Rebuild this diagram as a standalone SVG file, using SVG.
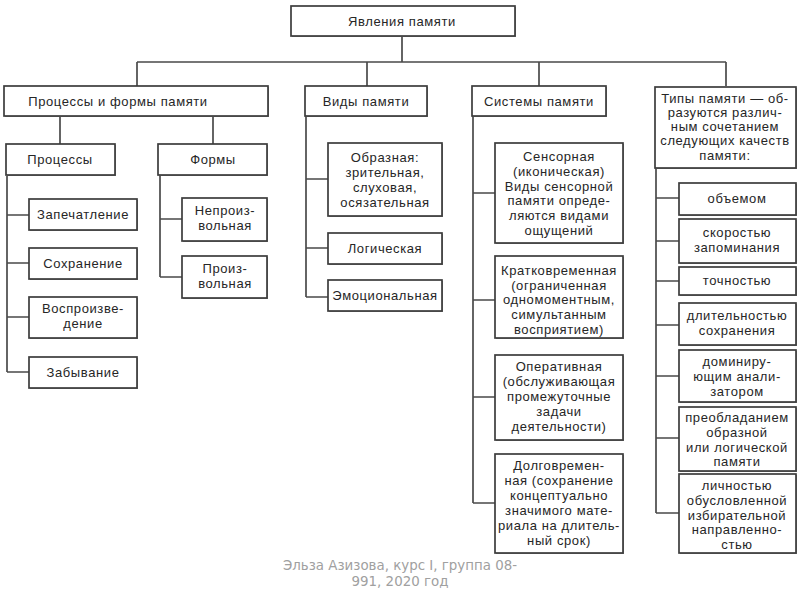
<svg xmlns="http://www.w3.org/2000/svg" width="800" height="600" viewBox="0 0 800 600">
<style>
.bg{fill:#fff}
.box{fill:#fff;stroke:#3c3c3c;stroke-width:1.7}
.sh{fill:#8a8a8a}
.t{font-family:"Liberation Sans",Arial,sans-serif;font-size:13px;letter-spacing:0.6px;fill:#262626;text-anchor:middle}
.ln{stroke:#4a4a4a;stroke-width:1.7;fill:none}
.ft{font-family:"DejaVu Sans",sans-serif;font-size:13.4px;fill:#a0a0a0;text-anchor:middle}
</style>
<rect class="bg" x="0" y="0" width="800" height="600"/>
<g id="connectors">
<path class="ln" d="M402,36V62M137,62H726M137,62V86M367,62V86M539,62V86M726,62V86"/>
<path class="ln" d="M60,116V144M213,116V144"/>
<path class="ln" d="M7,176V372M7,215H29M7,263H29M7,317H29M7,372H29"/>
<path class="ln" d="M160,176V277M160,219H182M160,277H182"/>
<path class="ln" d="M306,116V297M306,179H328M306,248H328M306,297H328"/>
<path class="ln" d="M473,116V503M473,193H495M473,300H495M473,397H495M473,503H495"/>
<path class="ln" d="M656,168V513M656,198H679M656,241H679M656,281H679M656,325H679M656,376H679M656,438H679M656,513H679"/>
</g>
<g id="n-root"><rect class="sh" x="292" y="7" width="224" height="30"/><rect class="box" x="291" y="6" width="224" height="30"/><text class="t" x="402" y="26">Явления памяти</text></g>
<g id="n-pf"><rect class="sh" x="5" y="87" width="264" height="30"/><rect class="box" x="4" y="86" width="264" height="30"/><text class="t" x="118" y="106">Процессы и формы памяти</text></g>
<g id="n-vidy"><rect class="sh" x="306" y="87" width="122" height="30"/><rect class="box" x="305" y="86" width="122" height="30"/><text class="t" x="366" y="106">Виды памяти</text></g>
<g id="n-sist"><rect class="sh" x="473" y="87" width="134" height="30"/><rect class="box" x="472" y="86" width="134" height="30"/><text class="t" x="539" y="106">Системы памяти</text></g>
<g id="n-tipy"><rect class="sh" x="656" y="88" width="141" height="81"/><rect class="box" x="655" y="87" width="141" height="81"/><text class="t" x="725"><tspan x="725" y="103">Типы памяти — об-</tspan><tspan x="725" y="117">разуются различ-</tspan><tspan x="725" y="131">ным сочетанием</tspan><tspan x="725" y="145">следующих качеств</tspan><tspan x="725" y="160">памяти:</tspan></text></g>
<g id="n-proc"><rect class="sh" x="7" y="145" width="109" height="31"/><rect class="box" x="6" y="144" width="109" height="31"/><text class="t" x="60" y="164">Процессы</text></g>
<g id="n-formy"><rect class="sh" x="159" y="145" width="109" height="31"/><rect class="box" x="158" y="144" width="109" height="31"/><text class="t" x="213" y="164">Формы</text></g>
<g id="n-zap"><rect class="sh" x="30" y="200" width="108" height="31"/><rect class="box" x="29" y="199" width="108" height="31"/><text class="t" x="83" y="219">Запечатление</text></g>
<g id="n-sohr"><rect class="sh" x="30" y="249" width="108" height="31"/><rect class="box" x="29" y="248" width="108" height="31"/><text class="t" x="83" y="268">Сохранение</text></g>
<g id="n-vospr"><rect class="sh" x="30" y="298" width="108" height="41"/><rect class="box" x="29" y="297" width="108" height="41"/><text class="t"><tspan x="83" y="313">Воспроизве-</tspan><tspan x="83" y="328">дение</tspan></text></g>
<g id="n-zab"><rect class="sh" x="30" y="358" width="108" height="31"/><rect class="box" x="29" y="357" width="108" height="31"/><text class="t" x="83" y="377">Забывание</text></g>
<g id="n-neproiz"><rect class="sh" x="183" y="199" width="85" height="43"/><rect class="box" x="182" y="198" width="85" height="43"/><text class="t"><tspan x="225" y="215">Непроиз-</tspan><tspan x="225" y="230">вольная</tspan></text></g>
<g id="n-proiz"><rect class="sh" x="183" y="257" width="85" height="42"/><rect class="box" x="182" y="256" width="85" height="42"/><text class="t"><tspan x="225" y="273">Произ-</tspan><tspan x="225" y="288">вольная</tspan></text></g>
<g id="n-obraz"><rect class="sh" x="329" y="144" width="114" height="73"/><rect class="box" x="328" y="143" width="114" height="73"/><text class="t"><tspan x="385" y="162">Образная:</tspan><tspan x="385" y="177">зрительная,</tspan><tspan x="385" y="192">слуховая,</tspan><tspan x="385" y="207">осязательная</tspan></text></g>
<g id="n-log"><rect class="sh" x="329" y="234" width="114" height="31"/><rect class="box" x="328" y="233" width="114" height="31"/><text class="t" x="385" y="253">Логическая</text></g>
<g id="n-emo"><rect class="sh" x="329" y="281" width="114" height="31"/><rect class="box" x="328" y="280" width="114" height="31"/><text class="t" x="385" y="300">Эмоциональная</text></g>
<g id="n-sens"><rect class="sh" x="496" y="144" width="128" height="100"/><rect class="box" x="495" y="143" width="128" height="100"/><text class="t"><tspan x="559" y="161">Сенсорная</tspan><tspan x="559" y="176">(иконическая)</tspan><tspan x="559" y="191">Виды сенсорной</tspan><tspan x="559" y="205">памяти опреде-</tspan><tspan x="559" y="220">ляются видами</tspan><tspan x="559" y="235">ощущений</tspan></text></g>
<g id="n-kratk"><rect class="sh" x="496" y="257" width="128" height="82"/><rect class="box" x="495" y="256" width="128" height="82"/><text class="t"><tspan x="559" y="275">Кратковременная</tspan><tspan x="559" y="290">(ограниченная</tspan><tspan x="559" y="304">одномоментным,</tspan><tspan x="559" y="319">симультанным</tspan><tspan x="559" y="334">восприятием)</tspan></text></g>
<g id="n-oper"><rect class="sh" x="496" y="356" width="128" height="85"/><rect class="box" x="495" y="355" width="128" height="85"/><text class="t"><tspan x="559" y="371">Оперативная</tspan><tspan x="559" y="386">(обслуживающая</tspan><tspan x="559" y="401">промежуточные</tspan><tspan x="559" y="416">задачи</tspan><tspan x="559" y="431">деятельности)</tspan></text></g>
<g id="n-dolg"><rect class="sh" x="496" y="455" width="128" height="99"/><rect class="box" x="495" y="454" width="128" height="99"/><text class="t"><tspan x="559" y="470">Долговремен-</tspan><tspan x="559" y="485">ная (сохранение</tspan><tspan x="559" y="500">концептуально</tspan><tspan x="559" y="515">значимого мате-</tspan><tspan x="559" y="530">риала на длитель-</tspan><tspan x="559" y="545">ный срок)</tspan></text></g>
<g id="n-obem"><rect class="sh" x="680" y="184" width="117" height="32"/><rect class="box" x="679" y="183" width="117" height="32"/><text class="t" x="737" y="203">объемом</text></g>
<g id="n-skor"><rect class="sh" x="680" y="220" width="117" height="44"/><rect class="box" x="679" y="219" width="117" height="44"/><text class="t"><tspan x="737" y="237">скоростью</tspan><tspan x="737" y="252">запоминания</tspan></text></g>
<g id="n-toch"><rect class="sh" x="680" y="268" width="117" height="28"/><rect class="box" x="679" y="267" width="117" height="28"/><text class="t" x="737" y="285">точностью</text></g>
<g id="n-dlit"><rect class="sh" x="680" y="304" width="117" height="42"/><rect class="box" x="679" y="303" width="117" height="42"/><text class="t"><tspan x="737" y="320">длительностью</tspan><tspan x="737" y="335">сохранения</tspan></text></g>
<g id="n-domin"><rect class="sh" x="680" y="351" width="117" height="52"/><rect class="box" x="679" y="350" width="117" height="52"/><text class="t"><tspan x="737" y="366">доминиру-</tspan><tspan x="737" y="381">ющим анали-</tspan><tspan x="737" y="396">затором</tspan></text></g>
<g id="n-preobl"><rect class="sh" x="680" y="408" width="117" height="64"/><rect class="box" x="679" y="407" width="117" height="64"/><text class="t"><tspan x="737" y="422">преобладанием</tspan><tspan x="737" y="437">образной</tspan><tspan x="737" y="452">или логической</tspan><tspan x="737" y="466">памяти</tspan></text></g>
<g id="n-lichn"><rect class="sh" x="680" y="475" width="117" height="79"/><rect class="box" x="679" y="474" width="117" height="79"/><text class="t"><tspan x="737" y="490">личностью</tspan><tspan x="737" y="505">обусловленной</tspan><tspan x="737" y="520">избирательной</tspan><tspan x="737" y="534">направленно-</tspan><tspan x="737" y="549">стью</tspan></text></g>
<g id="footer"><text class="ft"><tspan x="400" y="570">Эльза Азизова, курс I, группа 08-</tspan><tspan x="400" y="586">991, 2020 год</tspan></text></g>
</svg>
